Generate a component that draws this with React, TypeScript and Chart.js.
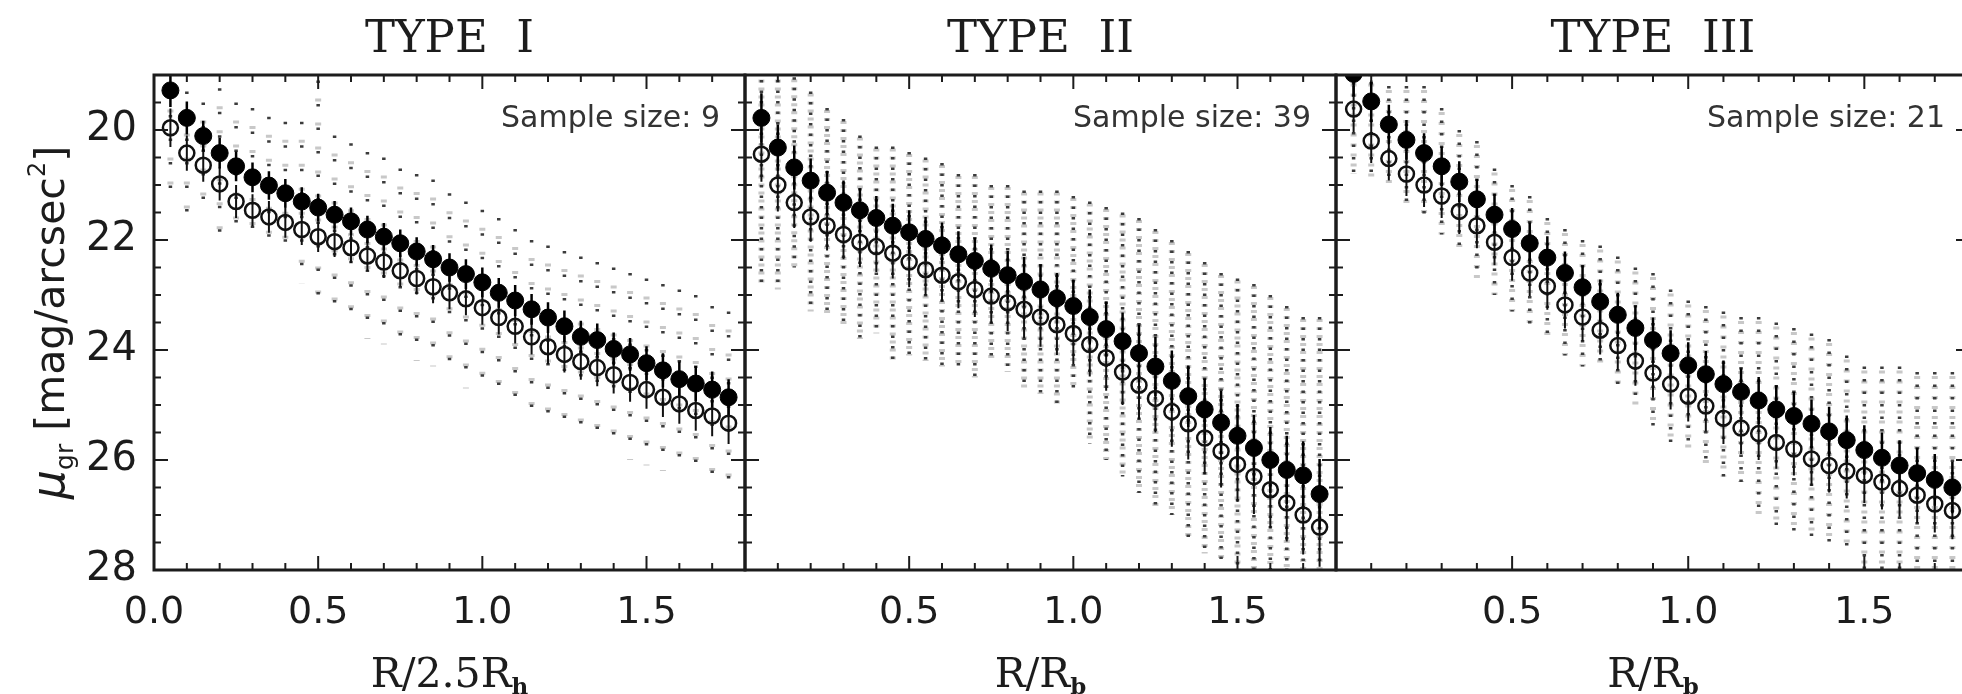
import React, { useEffect, useRef } from 'react';
import { Chart, registerables } from 'chart.js';

Chart.register(...registerables);

// ---------- data ----------
const RADII = [0.05, 0.1, 0.15, 0.2, 0.25, 0.3, 0.35, 0.4, 0.45, 0.5, 0.55, 0.6, 0.65, 0.7, 0.75, 0.8, 0.85, 0.9, 0.95, 1.0, 1.05, 1.1, 1.15, 1.2, 1.25, 1.3, 1.35, 1.4, 1.45, 1.5, 1.55, 1.6, 1.65, 1.7, 1.75];

const X_TICK_MARKS = [0, 0.1, 0.2, 0.3, 0.4, 0.5, 0.6, 0.7, 0.8, 0.9, 1.0, 1.1, 1.2, 1.3, 1.4, 1.5, 1.6, 1.7, 1.8];
const X_MAJOR_MARKS = [0, 0.5, 1.0, 1.5];
const Y_TICK_MARKS = [19, 19.5, 20, 20.5, 21, 21.5, 22, 22.5, 23, 23.5, 24, 24.5, 25, 25.5, 26, 26.5, 27, 27.5, 28];
const Y_MAJOR_MARKS = [20, 22, 24, 26, 28];

// TYPE I
const P1_FILLED = [19.28, 19.78, 20.11, 20.42, 20.66, 20.86, 21.01, 21.15, 21.30, 21.41, 21.54, 21.66, 21.81, 21.94, 22.06, 22.21, 22.35, 22.50, 22.62, 22.77, 22.96, 23.10, 23.26, 23.41, 23.57, 23.76, 23.82, 23.98, 24.08, 24.24, 24.37, 24.53, 24.61, 24.72, 24.86];
const P1_OPEN = [19.96, 20.42, 20.64, 20.98, 21.30, 21.46, 21.58, 21.68, 21.81, 21.94, 22.03, 22.14, 22.29, 22.40, 22.56, 22.70, 22.85, 22.96, 23.07, 23.23, 23.41, 23.57, 23.76, 23.94, 24.08, 24.21, 24.32, 24.45, 24.59, 24.72, 24.86, 24.98, 25.10, 25.20, 25.33];
const P1_FILLED_ERR = [0.30, 0.30, 0.28, 0.28, 0.27, 0.27, 0.26, 0.26, 0.26, 0.25, 0.25, 0.25, 0.25, 0.25, 0.25, 0.26, 0.26, 0.26, 0.27, 0.27, 0.27, 0.28, 0.28, 0.28, 0.29, 0.29, 0.30, 0.30, 0.30, 0.31, 0.31, 0.32, 0.32, 0.33, 0.33];
const P1_OPEN_ERR = [0.35, 0.32, 0.30, 0.30, 0.30, 0.29, 0.29, 0.28, 0.28, 0.28, 0.28, 0.28, 0.28, 0.29, 0.29, 0.29, 0.30, 0.30, 0.30, 0.31, 0.31, 0.31, 0.32, 0.32, 0.33, 0.33, 0.34, 0.34, 0.35, 0.35, 0.36, 0.36, 0.37, 0.37, 0.38];
const P1_SCATTER_TOP = [19.3, 19.3, 19.5, 19.24, 19.5, 19.6, 19.76, 19.85, 19.85, 19.1, 20.1, 20.24, 20.4, 20.5, 20.7, 20.8, 20.9, 21.15, 21.3, 21.45, 21.6, 21.8, 22.0, 22.1, 22.2, 22.3, 22.4, 22.5, 22.6, 22.7, 22.8, 22.9, 23.0, 23.2, 23.3];
const P1_SCATTER_BOTTOM = [21.3, 21.7, 21.44, 22.0, 21.7, 22.1, 22.2, 22.2, 22.8, 23.0, 23.2, 23.4, 23.8, 23.9, 24.0, 24.2, 24.3, 24.3, 24.7, 24.5, 24.7, 24.9, 25.1, 25.2, 25.4, 25.4, 25.7, 25.8, 26.0, 26.1, 26.2, 26.2, 26.3, 26.4, 26.6];

// TYPE II
const P2_FILLED = [19.78, 20.32, 20.68, 20.92, 21.14, 21.32, 21.46, 21.60, 21.74, 21.86, 21.98, 22.10, 22.26, 22.38, 22.52, 22.64, 22.76, 22.90, 23.06, 23.20, 23.40, 23.62, 23.84, 24.06, 24.30, 24.56, 24.84, 25.08, 25.32, 25.56, 25.78, 26.00, 26.18, 26.28, 26.62];
const P2_OPEN = [20.44, 21.00, 21.32, 21.58, 21.74, 21.90, 22.04, 22.12, 22.24, 22.40, 22.54, 22.64, 22.76, 22.90, 23.02, 23.14, 23.26, 23.40, 23.54, 23.70, 23.90, 24.14, 24.40, 24.64, 24.88, 25.12, 25.34, 25.60, 25.84, 26.08, 26.30, 26.54, 26.78, 27.00, 27.22];
const P2_FILLED_ERR = [0.45, 0.42, 0.40, 0.40, 0.40, 0.40, 0.40, 0.40, 0.40, 0.40, 0.40, 0.42, 0.42, 0.42, 0.44, 0.44, 0.45, 0.46, 0.46, 0.48, 0.50, 0.50, 0.52, 0.52, 0.54, 0.55, 0.56, 0.56, 0.58, 0.58, 0.60, 0.60, 0.62, 0.62, 0.64];
const P2_OPEN_ERR = [0.50, 0.48, 0.46, 0.45, 0.45, 0.45, 0.45, 0.46, 0.46, 0.46, 0.47, 0.48, 0.48, 0.50, 0.50, 0.52, 0.52, 0.54, 0.55, 0.56, 0.58, 0.60, 0.60, 0.62, 0.62, 0.64, 0.65, 0.66, 0.66, 0.68, 0.68, 0.70, 0.70, 0.72, 0.72];
const P2_SCATTER_TOP = [18.9, 18.9, 19.04, 19.3, 19.6, 19.8, 20.1, 20.3, 20.3, 20.4, 20.5, 20.6, 20.8, 20.8, 21.0, 21.0, 21.1, 21.1, 21.1, 21.2, 21.3, 21.4, 21.5, 21.6, 21.8, 22.0, 22.2, 22.4, 22.6, 22.7, 22.8, 23.0, 23.2, 23.4, 23.4];
const P2_SCATTER_BOTTOM = [22.8, 22.9, 22.5, 23.3, 23.4, 23.6, 23.8, 23.7, 24.2, 24.1, 24.2, 24.3, 24.3, 24.5, 24.2, 24.4, 24.7, 24.8, 25.0, 24.7, 25.7, 26.0, 26.3, 26.6, 26.9, 27.0, 27.4, 27.7, 27.8, 28.2, 28.3, 28.3, 28.3, 28.3, 28.3];

// TYPE III
const P3_FILLED = [18.98, 19.48, 19.90, 20.18, 20.42, 20.66, 20.94, 21.26, 21.54, 21.80, 22.06, 22.32, 22.60, 22.86, 23.12, 23.36, 23.60, 23.82, 24.06, 24.28, 24.44, 24.62, 24.76, 24.92, 25.08, 25.20, 25.34, 25.48, 25.64, 25.82, 25.96, 26.10, 26.24, 26.36, 26.50];
const P3_OPEN = [19.62, 20.20, 20.52, 20.80, 21.00, 21.20, 21.48, 21.74, 22.04, 22.32, 22.60, 22.84, 23.18, 23.40, 23.64, 23.92, 24.20, 24.42, 24.62, 24.84, 25.02, 25.24, 25.42, 25.52, 25.68, 25.80, 25.98, 26.10, 26.20, 26.28, 26.40, 26.52, 26.64, 26.80, 26.92];
const P3_FILLED_ERR = [0.40, 0.38, 0.36, 0.36, 0.36, 0.36, 0.37, 0.37, 0.38, 0.38, 0.38, 0.39, 0.39, 0.40, 0.40, 0.40, 0.41, 0.41, 0.42, 0.42, 0.42, 0.43, 0.43, 0.43, 0.44, 0.44, 0.44, 0.45, 0.45, 0.45, 0.46, 0.46, 0.46, 0.47, 0.47];
const P3_OPEN_ERR = [0.42, 0.40, 0.40, 0.40, 0.40, 0.40, 0.41, 0.41, 0.42, 0.42, 0.42, 0.43, 0.43, 0.44, 0.44, 0.44, 0.45, 0.45, 0.46, 0.46, 0.46, 0.47, 0.47, 0.48, 0.48, 0.48, 0.49, 0.49, 0.50, 0.50, 0.50, 0.51, 0.51, 0.52, 0.52];
const P3_SCATTER_TOP = [18.9, 18.9, 19.2, 19.2, 19.2, 19.6, 20.0, 20.2, 20.7, 21.0, 21.2, 21.6, 21.8, 22.0, 22.1, 22.3, 22.5, 22.6, 22.9, 23.1, 23.2, 23.3, 23.4, 23.4, 23.5, 23.6, 23.7, 23.8, 24.1, 24.3, 24.3, 24.3, 24.4, 24.4, 24.4];
const P3_SCATTER_BOTTOM = [20.8, 20.9, 21.0, 21.4, 21.6, 21.9, 22.2, 22.7, 23.0, 23.3, 23.6, 23.8, 24.1, 24.3, 24.3, 24.7, 25.0, 25.4, 25.7, 25.8, 26.1, 26.3, 26.4, 27.0, 27.2, 27.3, 27.4, 27.5, 27.6, 28.2, 28.2, 28.2, 28.2, 28.2, 28.2];

const TITLES = ['TYPE  I', 'TYPE  II', 'TYPE  III'];
const SAMPLE_SIZES = [9, 39, 21];
const X_TITLES = [['R/2.5R', 'h'], ['R/R', 'b'], ['R/R', 'b']];

// ---------- layout ----------
const CANVAS_W = 1980;
const CANVAS_H = 694;
const PLOT_TOP = 75;
const PLOT_BOTTOM = 570;
const INK = '#1c1c1c';

const PANELS = [
  { id: 'p1', left: 154, right: 745, showY: true, hideZero: false, title: TITLES[0], sample: SAMPLE_SIZES[0], xTitle: X_TITLES[0],
    filled: P1_FILLED, open: P1_OPEN, filledErr: P1_FILLED_ERR, openErr: P1_OPEN_ERR, top: P1_SCATTER_TOP, bottom: P1_SCATTER_BOTTOM,
    dashBlack: [2.5, 21], dashGrey: [3, 21] },
  { id: 'p2', left: 745, right: 1336, showY: false, hideZero: true, title: TITLES[1], sample: SAMPLE_SIZES[1], xTitle: X_TITLES[1],
    filled: P2_FILLED, open: P2_OPEN, filledErr: P2_FILLED_ERR, openErr: P2_OPEN_ERR, top: P2_SCATTER_TOP, bottom: P2_SCATTER_BOTTOM,
    dashBlack: [2.5, 8], dashGrey: [3, 5] },
  { id: 'p3', left: 1336, right: 1970, showY: false, hideZero: true, title: TITLES[2], sample: SAMPLE_SIZES[2], xTitle: X_TITLES[2],
    filled: P3_FILLED, open: P3_OPEN, filledErr: P3_FILLED_ERR, openErr: P3_OPEN_ERR, top: P3_SCATTER_TOP, bottom: P3_SCATTER_BOTTOM,
    dashBlack: [2.5, 10], dashGrey: [3, 7] },
];

const near = (v: number, list: number[]) => list.some((m) => Math.abs(m - v) < 1e-6);

function drawRich(ctx: CanvasRenderingContext2D, parts: { t: string; font: string; dy: number }[], cx: number, baseY: number) {
  let total = 0;
  parts.forEach((p) => { ctx.font = p.font; total += ctx.measureText(p.t).width; });
  let x = cx - total / 2;
  ctx.textAlign = 'left';
  ctx.textBaseline = 'alphabetic';
  parts.forEach((p) => { ctx.font = p.font; ctx.fillText(p.t, x, baseY + p.dy); x += ctx.measureText(p.t).width; });
}

function buildChart(canvas: HTMLCanvasElement, p: any) {
  const pts = (ys: number[]) => RADII.map((x, i) => ({ x, y: ys[i] }));
  const bars = (ys: number[], es: number[]) => RADII.flatMap((x, i) => [{ x, y: ys[i] - es[i] }, { x, y: ys[i] + es[i] }, { x, y: null }]);
  const cols = (hi: number[], lo: number[]) => RADII.flatMap((x, i) => [{ x, y: hi[i] }, { x, y: lo[i] }, { x, y: null }]);

  const decor = {
    id: 'panelDecor',
    afterDraw(chart: any) {
      const { ctx, chartArea: a, scales } = chart;
      const xs = scales.x;
      const ys = scales.y;
      ctx.save();
      ctx.strokeStyle = INK;
      ctx.lineWidth = 2;
      ctx.beginPath();
      X_TICK_MARKS.forEach((v) => {
        const px = xs.getPixelForValue(v);
        const len = near(v, X_MAJOR_MARKS) ? 14 : 7;
        ctx.moveTo(px, a.top); ctx.lineTo(px, a.top + len);
        ctx.moveTo(px, a.bottom); ctx.lineTo(px, a.bottom - len);
      });
      Y_TICK_MARKS.forEach((v) => {
        const py = ys.getPixelForValue(v);
        const len = near(v, Y_MAJOR_MARKS) ? 14 : 7;
        ctx.moveTo(a.left, py); ctx.lineTo(a.left + len, py);
        ctx.moveTo(a.right, py); ctx.lineTo(a.right - len, py);
      });
      ctx.stroke();
      ctx.lineWidth = 3;
      ctx.strokeRect(a.left, a.top, a.right - a.left, a.bottom - a.top);

      const cx = (a.left + a.right) / 2;
      ctx.fillStyle = INK;
      ctx.textAlign = 'center';
      ctx.textBaseline = 'alphabetic';
      ctx.font = '45px "DejaVu Serif"';
      ctx.fillText(p.title, cx, 52);

      ctx.fillStyle = '#333';
      ctx.textAlign = 'right';
      ctx.font = '30px "DejaVu Sans"';
      ctx.fillText('Sample size: ' + p.sample, a.right - 25, 127);

      ctx.fillStyle = INK;
      drawRich(ctx, [
        { t: p.xTitle[0], font: '41px "DejaVu Serif"', dy: 0 },
        { t: p.xTitle[1], font: 'bold 23px "DejaVu Serif"', dy: 7 },
      ], cx, 687);

      if (p.showY) {
        ctx.save();
        ctx.translate(64, (a.top + a.bottom) / 2);
        ctx.rotate(-Math.PI / 2);
        drawRich(ctx, [
          { t: 'μ', font: 'italic 46px "DejaVu Sans"', dy: 0 },
          { t: 'gr', font: '25px "DejaVu Sans"', dy: 9 },
          { t: ' [mag/arcsec', font: '41px "DejaVu Sans"', dy: 0 },
          { t: '2', font: '24px "DejaVu Sans"', dy: -19 },
          { t: ']', font: '41px "DejaVu Sans"', dy: 0 },
        ], 0, 0);
        ctx.restore();
      }
      ctx.restore();
    },
  };

  return new Chart(canvas, {
    type: 'line',
    data: {
      datasets: [
        { label: 'filled', data: pts(p.filled), showLine: false, pointRadius: 8.5, pointHoverRadius: 8.5, pointStyle: 'circle',
          pointBackgroundColor: '#000', pointBorderColor: '#000', pointBorderWidth: 1, order: 0, clip: 0 },
        { label: 'open', data: pts(p.open), showLine: false, pointRadius: 7.5, pointHoverRadius: 7.5, pointStyle: 'circle',
          pointBackgroundColor: 'rgba(255,255,255,0)', pointBorderColor: '#111', pointBorderWidth: 2.5, order: 1, clip: 0 },
        { label: 'filled err', data: bars(p.filled, p.filledErr), borderColor: '#000', borderWidth: 2.5, pointRadius: 0, spanGaps: false, order: 2, clip: 0 },
        { label: 'open err', data: bars(p.open, p.openErr), borderColor: '#111', borderWidth: 2, pointRadius: 0, spanGaps: false, order: 3, clip: 0 },
        { label: 'profiles black', data: cols(p.top, p.bottom), borderColor: '#3c3c3c', borderWidth: 3.5, borderDash: p.dashBlack,
          pointRadius: 0, spanGaps: false, order: 4, clip: 0 },
        { label: 'profiles grey', data: cols(p.top, p.bottom), borderColor: '#c8c8c8', borderWidth: 6, borderDash: p.dashGrey,
          borderDashOffset: 6, pointRadius: 0, spanGaps: false, order: 5, clip: 0 },
      ],
    },
    options: {
      responsive: false,
      animation: false,
      events: [],
      layout: { padding: { top: PLOT_TOP, right: CANVAS_W - p.right, left: p.showY ? 0 : p.left, bottom: 0 } },
      elements: { line: { tension: 0, fill: false } },
      plugins: { legend: { display: false }, tooltip: { enabled: false } },
      scales: {
        x: {
          type: 'linear', min: 0, max: 1.8,
          grid: { display: false, drawTicks: false, tickLength: 0 },
          border: { display: false },
          ticks: {
            stepSize: 0.5, includeBounds: false, padding: 20, autoSkip: false, maxRotation: 0,
            color: INK, font: { family: 'DejaVu Sans', size: 38 },
            callback: (v: any) => (p.hideZero && Math.abs(v) < 1e-9 ? '' : Number(v).toFixed(1)),
          },
          afterFit: (s: any) => { s.height = CANVAS_H - PLOT_BOTTOM; },
        },
        y: {
          type: 'linear', reverse: true, min: 19, max: 28, display: p.showY,
          grid: { display: false, drawTicks: false, tickLength: 0 },
          border: { display: false },
          ticks: {
            stepSize: 2, includeBounds: false, padding: 17,
            color: INK, font: { family: 'DejaVu Sans', size: 40 },
            callback: (v: any) => String(v),
          },
          afterFit: (s: any) => { s.width = p.showY ? p.left : 0; },
        },
      },
    },
    plugins: [decor],
  } as any);
}

function Panel({ cfg }: { cfg: any }) {
  const ref = useRef<HTMLCanvasElement>(null);
  useEffect(() => {
    const chart = buildChart(ref.current as HTMLCanvasElement, cfg);
    return () => chart.destroy();
  }, [cfg]);
  return (
    <canvas ref={ref} width={CANVAS_W} height={CANVAS_H}
      style={{ position: 'absolute', left: 0, top: 0, width: CANVAS_W, height: CANVAS_H, display: 'block' }} />
  );
}

export default function App() {
  useEffect(() => {
    document.body.style.margin = '0';
    document.body.style.overflow = 'hidden';
  }, []);
  return (
    <div style={{ position: 'fixed', left: 0, top: 0, width: 1962, height: 694, overflow: 'hidden', background: '#fff' }}>
      {PANELS.map((p) => <Panel key={p.id} cfg={p} />)}
    </div>
  );
}
